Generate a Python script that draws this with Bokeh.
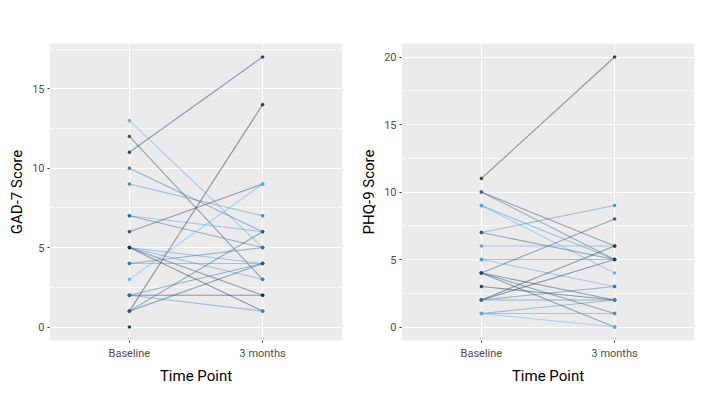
import numpy as np
from bokeh.plotting import figure
from bokeh.models import FactorRange, FixedTicker, LinearColorMapper, ColumnDataSource, Range1d
from bokeh.transform import transform
from bokeh.layouts import row
from bokeh.embed import file_html
from bokeh.resources import INLINE

# ---------------- data ----------------
time_points = ["Baseline", "3 months"]

gad_id       = [3, 1, 20, 5, 11, 14, 19, 9, 4, 18, 16, 6, 2, 17, 12, 22, 1, 15, 10, 7, 8, 2]
gad_baseline = [11, 1, 13, 12, 10, 9, 7, 7, 6, 5, 5, 5, 5, 4, 4, 3, 2, 2, 2, 1, 1, 0]
gad_3months  = [17, 14, 5, 3, 6, 7, 6, 5, 9, 4, 3, 2, 1, 4, 5, 9, 2, 1, 4, 6, 4, None]
gad_ticks    = [0, 5, 10, 15]
gad_minor    = [2.5, 7.5, 12.5, 17.5]

phq_id       = [3, 7, 10, 16, 20, 15, 8, 18, 13, 19, 7, 5, 9, 6, 2, 4, 3, 11, 12, 17, 14, 21]
phq_baseline = [11, 10, 10, 9, 9, 7, 7, 6, 5, 5, 4, 4, 4, 4, 3, 2, 2, 2, 2, 1, 1, 1]
phq_3months  = [20, 6, 5, 5, 4, 9, 5, 6, 5, 3, 8, 2, 1, 0, 2, 6, 5, 2, 3, 1, 2, 0]
phq_ticks    = [0, 5, 10, 15, 20]
phq_minor    = [2.5, 7.5, 12.5, 17.5]

# ---------------- style ----------------
LOW, HIGH = (0x13, 0x2B, 0x43), (0x56, 0xB1, 0xF7)
palette = ["#%02x%02x%02x" % tuple(int(round(l + (h - l) * i / 255)) for l, h in zip(LOW, HIGH))
           for i in range(256)]
FONT = "Roboto"


def make_panel(ylabel, ids, base, m3, ticks, minor, left_border, right_border):
    mapper = LinearColorMapper(palette=palette, low=min(ids), high=max(ids))
    vals = [v for v in base + m3 if v is not None]
    lo, hi = min(vals), max(vals)
    pad = 0.05 * (hi - lo)

    p = figure(x_range=FactorRange(factors=time_points, range_padding=0.1),
               y_range=Range1d(lo - pad, hi + pad),
               frame_width=293, frame_height=297,
               min_border_left=left_border, min_border_right=right_border,
               min_border_top=43, min_border_bottom=57,
               output_backend="svg", toolbar_location=None)

    seg = {"x0": [], "y0": [], "x1": [], "y1": [], "id": []}
    pts = {"x": [], "y": [], "id": []}
    for i, b, t in zip(ids, base, m3):
        if b is not None:
            pts["x"].append(time_points[0]); pts["y"].append(b); pts["id"].append(i)
        if t is not None:
            pts["x"].append(time_points[1]); pts["y"].append(t); pts["id"].append(i)
        if b is not None and t is not None:
            seg["x0"].append(time_points[0]); seg["y0"].append(b)
            seg["x1"].append(time_points[1]); seg["y1"].append(t)
            seg["id"].append(i)

    p.segment(x0="x0", y0="y0", x1="x1", y1="y1", source=ColumnDataSource(seg),
              line_color=transform("id", mapper), line_width=1.1, line_alpha=0.45)
    p.scatter(x="x", y="y", source=ColumnDataSource(pts), size=2.6,
              fill_color=transform("id", mapper), line_color=transform("id", mapper),
              line_alpha=0.9, fill_alpha=0.9)

    p.background_fill_color = "#EBEBEB"
    p.border_fill_color = "white"
    p.outline_line_color = None

    p.yaxis.ticker = FixedTicker(ticks=ticks, minor_ticks=minor)
    p.ygrid.ticker = p.yaxis.ticker
    p.ygrid.grid_line_color = "white"
    p.ygrid.grid_line_width = 1.1
    p.ygrid.minor_grid_line_color = "white"
    p.ygrid.minor_grid_line_width = 0.6
    p.xgrid.grid_line_color = "white"
    p.xgrid.grid_line_width = 1.1

    for ax in (p.xaxis[0], p.yaxis[0]):
        ax.axis_line_color = None
        ax.major_tick_line_color = "#333333"
        ax.major_tick_out = 2
        ax.major_tick_in = 0
        ax.minor_tick_line_color = None
        ax.major_label_text_color = "#4D4D4D"
        ax.major_label_text_font = FONT
        ax.major_label_text_font_size = "11px"
        ax.axis_label_text_font = FONT
        ax.axis_label_text_font_style = "normal"
        ax.axis_label_text_color = "black"
        ax.axis_label_text_font_size = "15px"

    p.yaxis.major_label_standoff = 1
    p.yaxis.axis_label = ylabel
    p.yaxis.axis_label_standoff = 3
    p.xaxis.major_label_standoff = 4
    p.xaxis.axis_label = "Time Point"
    p.xaxis.axis_label_standoff = 4
    return p


p1 = make_panel("GAD-7 Score", gad_id, gad_baseline, gad_3months, gad_ticks, gad_minor, 49, 14)
p2 = make_panel("PHQ-9 Score", phq_id, phq_baseline, phq_3months, phq_ticks, phq_minor, 45, 14)

layout = row(p1, p2)
open("out.html", "w").write(file_html(layout, INLINE))
